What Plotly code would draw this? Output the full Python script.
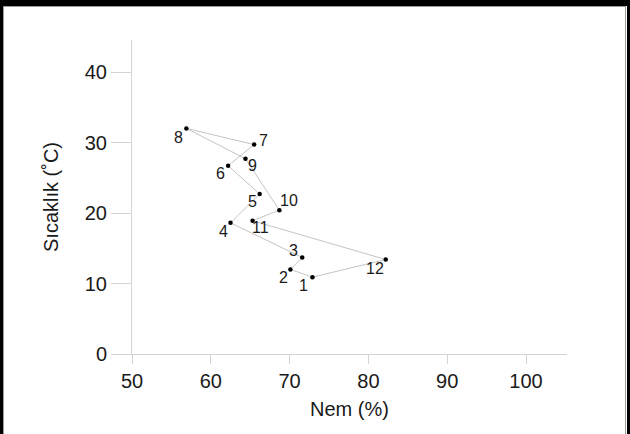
import plotly.graph_objects as go

# Data: monthly humidity (%) and temperature (°C), months 1..12
months = ["1", "2", "3", "4", "5", "6", "7", "8", "9", "10", "11", "12"]
nem = [72.9, 70.1, 71.6, 62.5, 66.2, 62.2, 65.5, 56.9, 64.4, 68.7, 65.3, 82.2]
sicaklik = [10.9, 12.0, 13.7, 18.6, 22.7, 26.7, 29.7, 32.0, 27.7, 20.4, 18.9, 13.4]

x_ticks = [50, 60, 70, 80, 90, 100]
y_ticks = [0, 10, 20, 30, 40]

# label offsets (px) for month numbers
label_dx = [-9, -7, -9, -7, -7, -8, 9, -8, 7, 10, 8, -11]
label_dy = [-8, -8, 7, -9, -8, -8, 4, -9, -7, 10, -7, -9]

FONT = "Liberation Sans, Arial, sans-serif"
AXIS_COLOR = "#d4d4d4"

# closed loop: back to month 1
loop_x = nem + [nem[0]]
loop_y = sicaklik + [sicaklik[0]]

fig = go.Figure()
fig.add_trace(go.Scatter(
    x=loop_x, y=loop_y, mode="lines",
    line=dict(color="#c4c4c4", width=1),
    hoverinfo="skip", showlegend=False,
))
fig.add_trace(go.Scatter(
    x=nem, y=sicaklik, mode="markers",
    marker=dict(color="black", size=4.5),
    text=months, showlegend=False,
))

annotations = []
for m, xv, yv, dx, dy in zip(months, nem, sicaklik, label_dx, label_dy):
    annotations.append(dict(
        x=xv, y=yv, xref="x", yref="y", text=m, showarrow=False,
        xshift=dx, yshift=dy, font=dict(family=FONT, size=16, color="#1a1a1a"),
    ))

W, H = 630, 434
ml, mr, mt, mb = 132, 63, 40, 80
pw, ph = W - ml - mr, H - mt - mb


def px(xp):
    return (xp - ml) / pw


def py(yp):
    return (H - mb - yp) / ph


shapes = [
    # top black bar
    dict(type="rect", xref="paper", yref="paper", x0=px(0), x1=px(W), y0=py(6), y1=py(0),
         fillcolor="black", line=dict(width=0), layer="above"),
    # left black bar
    dict(type="rect", xref="paper", yref="paper", x0=px(0), x1=px(3), y0=py(H), y1=py(0),
         fillcolor="black", line=dict(width=0), layer="above"),
    # right black bar
    dict(type="rect", xref="paper", yref="paper", x0=px(627), x1=px(W), y0=py(H), y1=py(0),
         fillcolor="black", line=dict(width=0), layer="above"),
    # thin grey inner lines
    dict(type="line", xref="paper", yref="paper", x0=px(3.5), x1=px(3.5), y0=py(H), y1=py(6),
         line=dict(color="#9a9a9a", width=1)),
    dict(type="line", xref="paper", yref="paper", x0=px(625.5), x1=px(625.5), y0=py(H), y1=py(6),
         line=dict(color="#9a9a9a", width=1)),
    dict(type="line", xref="paper", yref="paper", x0=px(3.5), x1=px(625.5), y0=py(6.5), y1=py(6.5),
         line=dict(color="#9a9a9a", width=1)),
]

fig.update_layout(
    width=W, height=H,
    margin=dict(l=ml, r=mr, t=mt, b=mb, pad=0),
    paper_bgcolor="white", plot_bgcolor="white",
    font=dict(family=FONT, size=20, color="#1a1a1a"),
    xaxis=dict(
        range=[50, 50 + pw / 7.88], tickvals=x_ticks, ticktext=[str(v) for v in x_ticks],
        showgrid=False, zeroline=False, showline=True, linecolor=AXIS_COLOR, linewidth=1,
        ticks="outside", ticklen=9, tickcolor=AXIS_COLOR, tickfont=dict(size=20),
        title=dict(text="Nem (%)", font=dict(size=20), standoff=10),
        automargin=False,
    ),
    yaxis=dict(
        range=[0, ph / 7.05], tickvals=y_ticks, ticktext=[str(v) for v in y_ticks],
        showgrid=False, zeroline=False, showline=True, linecolor=AXIS_COLOR, linewidth=1,
        ticks="outside", ticklen=20, tickcolor=AXIS_COLOR, tickfont=dict(size=20),
        title=dict(text="Sıcaklık (˚C)", font=dict(size=20), standoff=20),
        automargin=False,
    ),
    annotations=annotations,
    shapes=shapes,
)

fig.write_html("out.html")
